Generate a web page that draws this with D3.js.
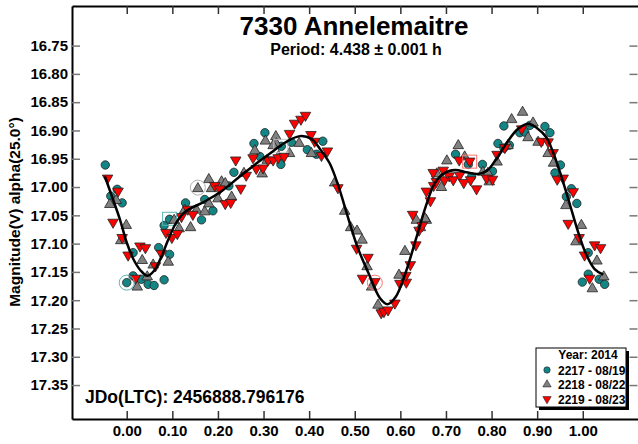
<!DOCTYPE html>
<html lang="en">
<head>
    <meta charset="UTF-8">
    <title>7330 Annelemaitre</title>
    <script src="https://d3js.org/d3.v7.min.js"></script>
    <style>
        body {
            margin: 0;
            padding: 0;
            background-color: #ffffff;
            font-family: Arial, "Liberation Sans", sans-serif;
        }
        svg text {
            font-weight: bold;
            fill: #000;
        }
    </style>
</head>
<body>
    <svg id="chart" width="638" height="444"></svg>

    <script>
        // Session 2217 - 08/19 (phase, magnitude)
        const phase2217 = [-0.047, -0.021, -0.035, -0.010, 0.014, 0.070, 0.094, 0.014, 0.000, 0.032, 0.047, 0.060, 0.082, 0.082, 0.094, 0.129, 0.164,
            0.171, 0.189, 0.224, 0.235, 0.279, 0.292, 0.303, 0.338, 0.339, 0.361, 0.396, 0.416, 0.430, 0.721, 0.749, 0.780, 0.756, 0.802,
            0.814, 0.827, 0.827, 0.839, 0.862, 0.873, 0.884, 0.917, 0.928, 0.951, 0.939, 0.975, 0.964, 0.987, 1.012, 1.012, 0.999, 1.036, 1.048];
        const mag2217 = [16.961, 17.004, 17.016, 17.028, 17.116, 17.107, 17.119, 17.157, 17.169, 17.163, 17.172, 17.174, 17.164, 17.068, 17.057, 17.028, 17.058,
            17.022, 17.042, 16.998, 16.974, 16.923, 16.946, 16.904, 16.960, 16.928, 16.921, 16.934, 16.942, 16.919, 16.942, 16.960, 16.960, 16.982, 16.972,
            16.923, 16.892, 16.931, 16.926, 16.904, 16.903, 16.891, 16.893, 16.904, 16.961, 16.975, 17.003, 17.017, 17.029, 17.116, 17.154, 17.168, 17.163, 17.172];

        // Session 2218 - 08/22
        const phase2218 = [-0.023, -0.037, -0.001, -0.013, 0.034, 0.091, 0.058, 0.045, 0.023, 0.104, 0.115, 0.127, 0.140, 0.156, 0.153, 0.171,
            0.180, 0.208, 0.216, 0.186, 0.230, 0.180, 0.200, 0.257, 0.297, 0.308, 0.281, 0.304, 0.327, 0.328, 0.321, 0.333, 0.357, 0.378, 0.405,
            0.456, 0.478, 0.491, 0.505, 0.516, 0.527, 0.537, 0.551, 0.597, 0.610, 0.644, 0.635, 0.657, 0.654, 0.690, 0.680, 0.702, 0.727, 0.741,
            0.781, 0.792, 0.795, 0.812, 0.836, 0.844, 0.868, 0.880, 0.891, 0.902, 0.924, 0.936, 0.963, 0.997, 0.985, 1.031, 1.046, 1.021];
        const mag2218 = [17.022, 17.029, 17.066, 17.093, 17.128, 17.131, 17.136, 17.157, 17.175, 17.057, 17.072, 17.039, 17.070, 17.001, 17.039, 17.042,
            16.985, 16.989, 16.992, 17.001, 17.016, 17.028, 17.019, 16.974, 16.975, 16.951, 16.934, 16.917, 16.909, 16.922, 16.925, 16.944, 16.939, 16.921, 16.939,
            16.991, 17.041, 17.070, 17.076, 17.092, 17.139, 17.175, 17.207, 17.154, 17.112, 17.070, 17.057, 17.057, 17.054, 16.999, 16.975, 16.952, 16.925, 16.945,
            16.972, 16.974, 16.989, 16.954, 16.925, 16.879, 16.866, 16.911, 16.885, 16.919, 16.939, 16.956, 17.031, 17.066, 17.095, 17.129, 17.157, 17.178];

        // Session 2219 - 08/23
        const phase2219 = [-0.042, -0.019, -0.030, -0.010, 0.003, 0.029, 0.041, 0.076, 0.063, 0.019, 0.086, 0.099, 0.111, 0.120, 0.134, 0.145,
            0.193, 0.204, 0.216, 0.228, 0.239, 0.262, 0.250, 0.277, 0.284, 0.299, 0.310, 0.321, 0.332, 0.345, 0.357, 0.368, 0.382, 0.392, 0.404,
            0.412, 0.427, 0.440, 0.463, 0.504, 0.529, 0.517, 0.544, 0.558, 0.564, 0.573, 0.588, 0.599, 0.613, 0.612, 0.622, 0.634, 0.641, 0.627,
            0.648, 0.657, 0.666, 0.673, 0.679, 0.672, 0.694, 0.697, 0.707, 0.716, 0.730, 0.739, 0.767, 0.754, 0.729, 0.752, 0.789, 0.802, 0.812,
            0.829, 0.866, 0.909, 0.924, 0.935, 0.944, 0.957, 0.979, 0.968, 0.992, 1.004, 1.026, 1.039, 1.015];
        const mag2219 = [16.986, 17.009, 17.064, 17.091, 17.122, 17.106, 17.109, 17.119, 17.141, 17.163, 17.082, 17.091, 17.084, 17.054, 17.041, 17.050,
            16.999, 17.005, 17.031, 17.029, 16.954, 16.981, 17.004, 16.950, 16.969, 16.968, 16.954, 16.954, 16.950, 16.948, 16.907, 16.889, 16.882, 16.875, 16.909,
            16.921, 16.946, 16.938, 17.003, 17.110, 17.126, 17.163, 17.169, 17.224, 17.222, 17.219, 17.207, 17.172, 17.170, 17.158, 17.139, 17.104, 17.078, 17.050,
            17.070, 17.009, 17.026, 16.999, 16.992, 16.976, 16.972, 16.989, 16.982, 16.989, 16.981, 16.994, 17.005, 16.989, 16.954, 16.956, 16.986, 16.988, 16.944,
            16.932, 16.899, 16.921, 16.922, 16.941, 16.988, 16.986, 17.010, 17.066, 17.091, 17.122, 17.104, 17.109, 17.163];

        // Fourier fit curve
        const fitPhase = [-0.048, -0.03, -0.015, 0.0, 0.015, 0.03, 0.045, 0.06, 0.075, 0.09, 0.105, 0.12, 0.135, 0.17, 0.21, 0.25, 0.29, 0.32, 0.35,
            0.38, 0.405, 0.425, 0.445, 0.465, 0.48, 0.505, 0.53, 0.555, 0.572, 0.59, 0.61, 0.635, 0.655, 0.675, 0.695, 0.72, 0.745, 0.77, 0.79,
            0.81, 0.835, 0.857, 0.88, 0.90, 0.92, 0.935, 0.953, 0.97, 0.99, 1.008, 1.026, 1.045];
        const fitMag = [16.981, 17.022, 17.057, 17.098, 17.128, 17.147, 17.157, 17.148, 17.125, 17.095, 17.068, 17.050, 17.040, 17.026, 17.006, 16.980, 16.955, 16.937, 16.920,
            16.910, 16.915, 16.934, 16.958, 17.000, 17.040, 17.104, 17.152, 17.196, 17.207, 17.194, 17.155, 17.090, 17.036, 16.994, 16.976, 16.970, 16.974, 16.977, 16.971,
            16.951, 16.920, 16.898, 16.888, 16.896, 16.912, 16.939, 16.981, 17.026, 17.080, 17.120, 17.145, 17.155];

        const xTicks = [0.0, 0.1, 0.2, 0.3, 0.4, 0.5, 0.6, 0.7, 0.8, 0.9, 1.0];
        const yTicks = [16.75, 16.80, 16.85, 16.90, 16.95, 17.00, 17.05, 17.10, 17.15, 17.20, 17.25, 17.30, 17.35];

        const seriesNames = ["2217 - 08/19", "2218 - 08/22", "2219 - 08/23"];
        const seriesColors = ["#138585", "#808080", "#ff0000"];

        // Highlighted reference points
        const markPhase = [0.000, 0.156, 0.094, 0.544, 0.752, 0.338];
        const markMag = [17.169, 17.001, 17.057, 17.169, 16.956, 16.928];
        const markShape = ["circle", "circle", "square", "circle", "square", "square"];
        const markColor = ["#5fb3b3", "#b0b0b0", "#5fb3b3", "#ff7070", "#ff7070", "#c8c8c8"];

        const margin = { top: 6, right: 0.5, bottom: 25, left: 72 };
        const svg = d3.select("#chart");
        const W = 638, H = 444;
        const width = W - margin.left - margin.right;
        const height = H - margin.top - margin.bottom;

        const chart = svg.append("g")
            .attr("transform", `translate(${margin.left},${margin.top})`);

        const xScale = d3.scaleLinear().domain([-0.12, 1.12]).range([0, width]);
        const yScale = d3.scaleLinear().domain([16.68, 17.41]).range([0, height]);

        // Axes: ticks point inwards on all four sides
        const xAxis = d3.axisBottom(xScale).tickValues(xTicks).tickSizeInner(-8).tickSizeOuter(0)
            .tickPadding(6).tickFormat(d3.format(".2f"));
        const yAxis = d3.axisLeft(yScale).tickValues(yTicks).tickSizeInner(-8).tickSizeOuter(0)
            .tickPadding(4).tickFormat(d3.format(".2f"));
        const xTop = d3.axisTop(xScale).tickValues(xTicks).tickSizeInner(-8).tickSizeOuter(0).tickFormat("");
        const yRight = d3.axisRight(yScale).tickValues(yTicks).tickSizeInner(-8).tickSizeOuter(0).tickFormat("");

        const gx = chart.append("g").attr("transform", `translate(0,${height})`).call(xAxis);
        const gy = chart.append("g").call(yAxis);
        const gt = chart.append("g").call(xTop);
        const gr = chart.append("g").attr("transform", `translate(${width},0)`).call(yRight);
        gr.select(".domain").remove();

        [gx, gy, gt].forEach(g => g.select(".domain").attr("stroke", "#000").attr("stroke-width", 2));
        [gx, gt].forEach(g => g.selectAll(".tick line").attr("stroke", "#333").attr("stroke-width", 1.5));
        [gy, gr].forEach(g => g.selectAll(".tick line").attr("stroke", "#777").attr("stroke-width", 1.5));
        [gx, gy].forEach(g => g.selectAll(".tick text")
            .style("font-size", "15px").style("font-weight", "bold")
            .style("font-family", "Arial, 'Liberation Sans', sans-serif").attr("fill", "#000"));

        // Data markers
        const triUp = d3.symbol().type(d3.symbolTriangle).size(48);
        const sessions = [
            { phase: phase2217, mag: mag2217, shape: "circle" },
            { phase: phase2218, mag: mag2218, shape: "up" },
            { phase: phase2219, mag: mag2219, shape: "down" }
        ];

        const drawMarker = (g, shape, x, y, color) => {
            if (shape === "circle") {
                g.append("circle").attr("cx", x).attr("cy", y).attr("r", 4.2)
                    .attr("fill", color).attr("stroke", "#222").attr("stroke-width", 0.8);
            } else {
                const rot = shape === "down" ? 180 : 0;
                g.append("path").attr("d", triUp())
                    .attr("transform", `translate(${x},${y + (shape === "down" ? -1 : 1)}) rotate(${rot})`)
                    .attr("fill", color).attr("stroke", "#222").attr("stroke-width", 0.8);
            }
        };

        const points = chart.append("g");
        sessions.forEach((s, i) => {
            s.phase.forEach((p, j) => {
                drawMarker(points, s.shape, xScale(p), yScale(s.mag[j]), seriesColors[i]);
            });
        });

        // Highlight rings / squares
        const marks = chart.append("g");
        markPhase.forEach((p, i) => {
            const x = xScale(p), y = yScale(markMag[i]);
            if (markShape[i] === "circle") {
                marks.append("circle").attr("cx", x).attr("cy", y).attr("r", 7.5)
                    .attr("fill", "none").attr("stroke", markColor[i]).attr("stroke-width", 1);
            } else {
                marks.append("rect").attr("x", x - 7).attr("y", y - 7).attr("width", 14).attr("height", 13)
                    .attr("fill", "none").attr("stroke", markColor[i]).attr("stroke-width", 1);
            }
        });

        // Fit curve
        const fitData = fitPhase.map((p, i) => [p, fitMag[i]]);
        const line = d3.line()
            .x(d => xScale(d[0]))
            .y(d => yScale(d[1]))
            .curve(d3.curveCatmullRom.alpha(0.5));
        chart.append("path")
            .datum(fitData)
            .attr("d", line)
            .attr("fill", "none")
            .attr("stroke", "#000")
            .attr("stroke-width", 2.5);

        // Titles
        svg.append("text").attr("x", 354).attr("y", 34.5).attr("text-anchor", "middle")
            .style("font-size", "26px").text("7330 Annelemaitre");
        svg.append("text").attr("x", 356).attr("y", 55).attr("text-anchor", "middle")
            .style("font-size", "16px").text("Period: 4.438 \u00b1 0.001 h");

        svg.append("text").attr("x", 85).attr("y", 403)
            .style("font-size", "17.5px").text("JDo(LTC): 2456888.796176");

        // Y axis label
        svg.append("text")
            .attr("transform", "rotate(-90)")
            .attr("x", -212).attr("y", 20)
            .attr("text-anchor", "middle")
            .style("font-size", "15.5px")
            .text("Magnitude(V) alpha(25.0\u00b0)");

        // Legend box with drop shadow
        const lg = svg.append("g").attr("transform", "translate(536,348)");
        lg.append("rect").attr("x", 3).attr("y", 3).attr("width", 90).attr("height", 59).attr("fill", "#000");
        lg.append("rect").attr("x", 0).attr("y", 0).attr("width", 90).attr("height", 59)
            .attr("fill", "#fff").attr("stroke", "#000").attr("stroke-width", 1);
        lg.append("text").attr("x", 52).attr("y", 11).attr("text-anchor", "middle")
            .style("font-size", "12px").text("Year: 2014");
        seriesNames.forEach((name, i) => {
            const cy = 22 + i * 14.5;
            const g = lg.append("g");
            if (i === 0) {
                g.append("circle").attr("cx", 11).attr("cy", cy).attr("r", 3.2)
                    .attr("fill", seriesColors[i]).attr("stroke", "#222").attr("stroke-width", 0.6);
            } else {
                const sym = d3.symbol().type(d3.symbolTriangle).size(30);
                g.append("path").attr("d", sym())
                    .attr("transform", `translate(11,${cy}) rotate(${i === 2 ? 180 : 0})`)
                    .attr("fill", seriesColors[i]).attr("stroke", "#222").attr("stroke-width", 0.6);
            }
            lg.append("text").attr("x", 22).attr("y", cy + 4.5)
                .style("font-size", "12px").text(name);
        });
    </script>
</body>
</html>
